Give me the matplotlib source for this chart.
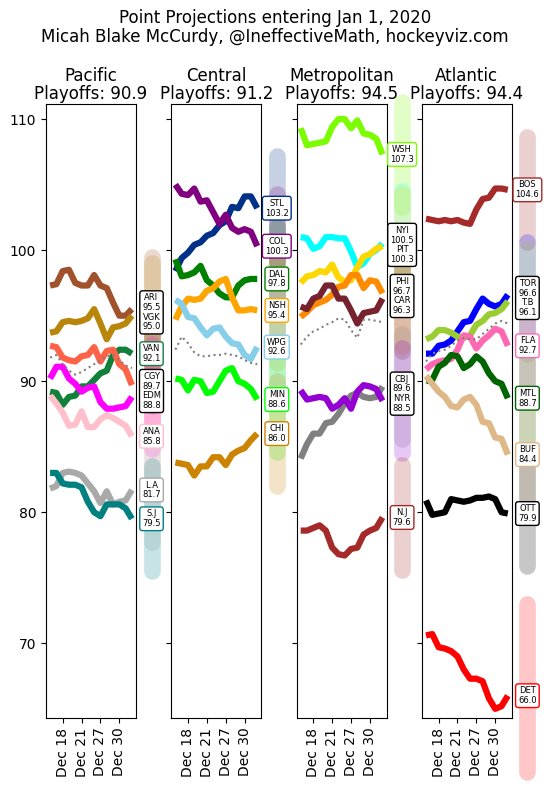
import matplotlib
matplotlib.use('Agg')
import matplotlib.pyplot as plt

# game days (no games Dec 24-26)
dates = ['Dec 16', 'Dec 17', 'Dec 18', 'Dec 19', 'Dec 20', 'Dec 21', 'Dec 22', 'Dec 23',
         'Dec 27', 'Dec 28', 'Dec 29', 'Dec 30', 'Dec 31', 'Jan 1']
tick_idx = [2, 5, 8, 11]

divisions = ['Pacific', 'Central', 'Metropolitan', 'Atlantic']
playoff_cut = [90.9, 91.2, 94.5, 94.4]

# Pacific
pac_teams = ['ARI', 'VGK', 'VAN', 'CGY', 'EDM', 'ANA', 'L.A', 'S.J']
pac_final = [95.5, 95.0, 92.1, 89.7, 88.8, 85.8, 81.7, 79.5]
pac_colors = ['sienna', 'darkgoldenrod', '#11803a', 'tomato', 'magenta', 'pink', 'darkgray', 'teal']
ari = [97.3, 97.4, 98.4, 98.5, 97.5, 97.3, 97.3, 98.1, 97.3, 97.1, 96.0, 95.0, 95.0, 95.5]
vgk = [93.7, 93.8, 94.5, 94.6, 94.5, 94.6, 94.8, 95.5, 94.4, 93.2, 94.1, 94.2, 94.4, 95.0]
van = [89.2, 89.1, 88.2, 88.8, 88.9, 89.6, 89.6, 90.1, 90.6, 90.8, 92.0, 92.4, 92.4, 92.1]
cgy = [92.7, 92.6, 91.8, 91.6, 91.5, 91.9, 92.0, 92.6, 91.5, 92.3, 92.4, 91.3, 90.9, 89.7]
edm = [90.2, 91.1, 91.1, 90.2, 89.8, 89.2, 89.5, 89.6, 88.4, 87.9, 87.9, 88.0, 88.1, 88.8]
ana = [88.9, 88.3, 87.6, 86.6, 86.7, 87.7, 86.5, 86.5, 87.1, 87.4, 87.2, 86.9, 86.6, 85.8]
lak = [81.8, 82.0, 83.0, 83.1, 83.0, 82.8, 82.2, 81.6, 80.7, 81.6, 80.6, 80.8, 80.9, 81.7]
sjs = [83.0, 83.0, 82.2, 82.1, 82.1, 81.9, 80.8, 80.0, 79.7, 80.6, 80.6, 80.6, 80.3, 79.5]
pac_cut = [91.8, 92.0, 91.3, 90.8, 90.5, 90.7, 91.0, 91.3, 91.6, 91.9, 92.0, 91.6, 91.2, 91.0]

# Central
cen_teams = ['STL', 'COL', 'DAL', 'NSH', 'WPG', 'MIN', 'CHI']
cen_final = [103.2, 100.3, 97.8, 95.4, 92.6, 88.6, 86.0]
cen_colors = ['#003087', 'purple', 'green', 'orange', 'skyblue', 'lime', '#cc8400']
stl = [98.4, 99.4, 99.8, 100.4, 100.6, 101.1, 101.3, 101.9, 102.2, 103.3, 103.2, 104.1, 104.1, 103.2]
col = [105.0, 104.3, 104.2, 104.7, 103.7, 103.8, 102.9, 102.0, 102.7, 101.7, 101.4, 101.6, 101.4, 100.3]
dal = [99.3, 98.0, 98.1, 98.3, 98.8, 97.7, 97.3, 96.7, 96.4, 96.4, 97.3, 97.7, 97.8, 97.8]
nsh = [94.7, 95.7, 96.3, 96.2, 96.3, 96.9, 97.1, 97.6, 97.8, 96.4, 95.4, 95.4, 95.5, 95.4]
wpg = [96.2, 95.9, 94.9, 94.8, 94.1, 93.5, 94.0, 94.1, 93.4, 92.9, 92.8, 92.0, 91.7, 92.6]
mnw = [90.2, 90.1, 89.3, 90.1, 90.0, 89.1, 89.2, 90.0, 90.8, 91.0, 90.0, 89.8, 89.4, 88.6]
chi = [83.8, 83.7, 83.6, 82.8, 83.5, 83.5, 84.2, 84.2, 83.6, 84.4, 84.7, 84.9, 85.5, 86.0]
cen_cut = [92.4, 93.4, 92.9, 92.2, 91.9, 91.9, 92.0, 92.0, 92.1, 92.0, 91.9, 91.6, 91.4, 91.3]

# Metropolitan
met_teams = ['WSH', 'NYI', 'PIT', 'PHI', 'CAR', 'CBJ', 'NYR', 'N.J']
met_final = [107.3, 100.5, 100.3, 96.7, 96.3, 89.6, 88.5, 79.6]
met_colors = ['lawngreen', 'cyan', 'gold', 'darkorange', '#76232f', 'gray', 'darkviolet', '#a52a2a']
wsh = [109.3, 108.0, 108.1, 108.2, 108.3, 109.4, 110.0, 110.0, 109.3, 109.9, 108.9, 108.8, 108.5, 107.3]
nyi = [101.0, 100.9, 100.1, 100.3, 101.0, 101.0, 100.9, 100.9, 99.9, 98.7, 99.0, 99.7, 100.0, 100.5]
pit = [97.5, 98.0, 98.1, 98.4, 98.3, 98.9, 97.9, 97.6, 97.7, 98.7, 99.5, 99.7, 100.1, 100.3]
phi = [94.9, 95.3, 95.8, 96.0, 96.2, 96.6, 97.2, 97.3, 98.1, 98.1, 97.1, 97.7, 97.6, 96.7]
car = [95.7, 95.5, 96.3, 96.5, 97.3, 97.3, 96.3, 96.3, 95.4, 94.4, 95.2, 95.3, 95.4, 96.3]
cbj = [84.1, 85.2, 86.0, 86.0, 86.8, 86.9, 87.5, 88.3, 88.9, 89.1, 88.8, 88.7, 88.8, 89.6]
nyr = [89.3, 88.6, 88.7, 88.8, 88.7, 87.9, 88.2, 88.7, 87.9, 89.2, 89.7, 89.6, 89.4, 88.5]
njd = [78.6, 78.6, 78.8, 79.0, 78.6, 77.3, 76.8, 76.7, 77.2, 77.3, 78.3, 78.6, 78.8, 79.6]
met_cut = [92.8, 93.4, 93.8, 94.0, 94.3, 94.5, 94.8, 94.7, 93.9, 93.3, 94.7, 94.7, 94.6, 94.5]

# Atlantic
atl_teams = ['BOS', 'TOR', 'T.B', 'FLA', 'MTL', 'BUF', 'OTT', 'DET']
atl_final = [104.6, 96.6, 96.1, 92.7, 88.7, 84.4, 79.9, 66.0]
atl_colors = ['brown', 'blue', 'yellowgreen', 'hotpink', 'darkgreen', 'burlywood', 'black', 'red']
bos = [102.4, 102.3, 102.2, 102.3, 102.2, 102.3, 102.1, 102.0, 103.1, 103.9, 104.0, 104.7, 104.7, 104.6]
tor = [92.1, 92.1, 92.7, 92.8, 93.1, 93.8, 94.5, 94.6, 95.5, 96.3, 95.9, 95.7, 95.9, 96.6]
tbl = [93.2, 93.4, 93.9, 93.9, 93.7, 93.4, 93.3, 93.5, 94.3, 94.6, 95.1, 95.2, 95.5, 96.1]
fla = [90.9, 91.3, 91.5, 91.6, 91.7, 92.4, 93.5, 93.4, 92.5, 93.1, 93.5, 94.0, 93.8, 92.7]
mtl = [90.0, 90.1, 91.1, 91.4, 92.0, 91.9, 91.0, 91.3, 91.9, 91.5, 90.6, 90.0, 89.8, 88.7]
buf = [90.4, 89.8, 89.2, 88.8, 88.1, 88.0, 88.6, 88.8, 88.2, 86.9, 86.8, 85.7, 85.6, 84.4]
ott = [80.9, 79.8, 79.9, 80.0, 81.0, 80.9, 80.8, 80.9, 81.1, 81.1, 81.2, 81.0, 80.0, 79.9]
det = [70.6, 70.7, 69.7, 69.6, 69.4, 69.0, 68.0, 67.3, 67.3, 67.1, 65.8, 65.0, 65.2, 66.0]
atl_cut = [91.5, 92.1, 92.3, 92.4, 92.7, 93.1, 93.3, 93.2, 93.2, 93.6, 94.0, 94.4, 94.6, 94.4]

# extent of the projection range bars above / below each final value
pac_up = [4.0, 4.0, 4.0, 4.0, 4.0, 4.0, 4.0, 4.0]
pac_down = [4.0, 4.0, 4.0, 4.0, 4.0, 4.0, 4.0, 4.0]
cen_up = [4.0, 4.0, 4.0, 4.0, 4.0, 4.0, 4.0]
cen_down = [4.0, 4.0, 4.0, 4.0, 4.0, 4.0, 4.0]
met_up = [4.0, 4.0, 4.0, 4.0, 4.0, 4.0, 4.0, 4.0]
met_down = [4.0, 4.0, 4.0, 4.0, 4.0, 4.0, 4.0, 4.0]
atl_up = [4.0, 4.0, 4.0, 4.0, 4.0, 4.0, 4.0, 7.0]
atl_down = [4.0, 4.0, 4.0, 4.0, 4.0, 4.0, 4.0, 5.8]

panels = [
    (pac_teams, pac_final, pac_colors, [ari, vgk, van, cgy, edm, ana, lak, sjs], pac_cut, pac_up, pac_down),
    (cen_teams, cen_final, cen_colors, [stl, col, dal, nsh, wpg, mnw, chi], cen_cut, cen_up, cen_down),
    (met_teams, met_final, met_colors, [wsh, nyi, pit, phi, car, cbj, nyr, njd], met_cut, met_up, met_down),
    (atl_teams, atl_final, atl_colors, [bos, tor, tbl, fla, mtl, buf, ott, det], atl_cut, atl_up, atl_down),
]

W, H = 550.0, 790.0
bottom = (H - 718) / H
height = (718 - 104) / H
ylim = (64.3, 111.15)

fig = plt.figure(figsize=(5.5, 7.9), dpi=100)
fig.suptitle('Point Projections entering Jan 1, 2020\nMicah Blake McCurdy, @IneffectiveMath, hockeyviz.com',
             fontsize=12, y=0.988, linespacing=1.05)

x = list(range(len(dates)))
for k, (teams, finals, colors, lines, cut, up, down) in enumerate(panels):
    x0 = 46 + k * 125.3
    ax = fig.add_axes([x0 / W, bottom, 90 / W, height])
    sx = fig.add_axes([(x0 + 89) / W, bottom, 33 / W, height])

    for vals, c in zip(lines, colors):
        ax.plot(x, vals, color=c, lw=4.5, solid_joinstyle='round', solid_capstyle='butt')
    ax.plot(x, cut, color='gray', lw=1.5, ls=':')
    ax.set_ylim(*ylim)
    ax.set_yticks([70, 80, 90, 100, 110])
    if k > 0:
        ax.set_yticklabels([])
    ax.set_xticks(tick_idx)
    ax.set_xticklabels([dates[i] for i in tick_idx], rotation=90)
    ax.set_title('%s\nPlayoffs: %.1f' % (divisions[k], playoff_cut[k]), fontsize=12,
                 linespacing=1.0, pad=3.5)

    # range bars and labels
    sx.set_xlim(-1, 1)
    sx.set_ylim(*ylim)
    sx.axis('off')
    for v, c, u, d in zip(finals, colors, up, down):
        sx.plot([0, 0], [v - d, v + u], color=c, lw=12, alpha=0.22,
                solid_capstyle='round', clip_on=False)

    groups = []
    for i in range(len(teams)):
        if groups and finals[groups[-1][-1]] - finals[i] < 2.0:
            groups[-1].append(i)
        else:
            groups.append([i])
    for g in groups:
        txt = '\n'.join('%s\n%.1f' % (teams[i], finals[i]) for i in g)
        ec = colors[g[0]] if len(g) == 1 else 'black'
        yv = sum(finals[i] for i in g) / len(g)
        sx.text(0, yv, txt, ha='center', va='center', fontsize=6, linespacing=1.1,
                bbox=dict(boxstyle='round,pad=0.3', fc='white', ec=ec, lw=1))

fig.savefig('out.png', dpi=100)
